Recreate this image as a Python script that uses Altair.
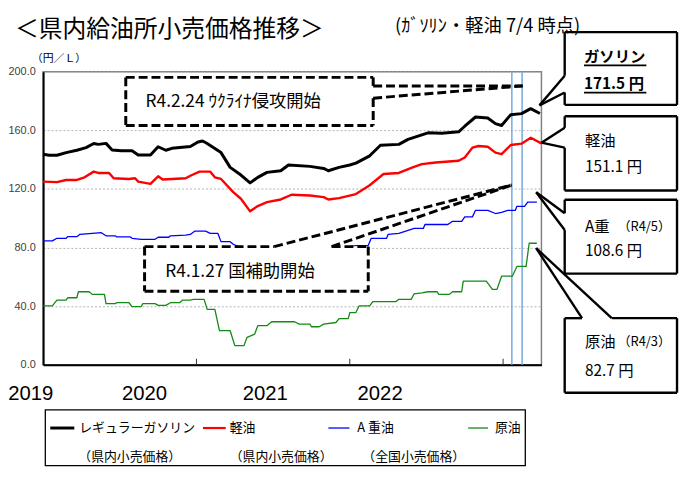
import altair as alt
import pandas as pd

# ---------------- data ----------------
SERIES = ["レギュラーガソリン", "軽油", "A重油", "原油"]

GAS_X = [2019.00, 2019.04, 2019.09, 2019.15, 2019.22, 2019.28, 2019.33, 2019.36, 2019.41, 2019.45,
         2019.51, 2019.58, 2019.62, 2019.70, 2019.75, 2019.80, 2019.84, 2019.96, 2020.01, 2020.04,
         2020.07, 2020.16, 2020.22, 2020.29, 2020.35, 2020.40, 2020.46, 2020.55, 2020.60, 2020.74,
         2020.83, 2020.86, 2020.93, 2021.00, 2021.04, 2021.13, 2021.20, 2021.32, 2021.38, 2021.51,
         2021.60, 2021.71, 2021.75, 2021.82, 2021.90, 2021.95, 2021.99, 2022.05, 2022.12, 2022.18,
         2022.24]
GAS_V = [143.7, 143.0, 143.0, 144.8, 146.4, 148.2, 151.0, 150.4, 151.1, 146.6,
         146.0, 146.0, 143.2, 143.2, 148.8, 146.4, 147.7, 149.0, 152.0, 152.7,
         151.0, 144.8, 134.7, 129.5, 124.1, 127.9, 131.3, 132.4, 136.3, 135.4,
         134.0, 132.4, 134.7, 136.3, 137.6, 142.6, 149.8, 150.4, 153.8, 158.3,
         158.0, 159.0, 162.8, 169.1, 168.4, 164.6, 163.3, 170.7, 171.4, 174.8,
         171.5]

DSL_X = [2019.00, 2019.09, 2019.15, 2019.22, 2019.27, 2019.33, 2019.36, 2019.43, 2019.46, 2019.56,
         2019.60, 2019.62, 2019.70, 2019.75, 2019.78, 2019.93, 2019.96, 2020.02, 2020.09, 2020.12,
         2020.16, 2020.24, 2020.29, 2020.35, 2020.40, 2020.46, 2020.55, 2020.62, 2020.74, 2020.83,
         2020.86, 2020.93, 2021.04, 2021.13, 2021.22, 2021.32, 2021.41, 2021.47, 2021.56, 2021.71,
         2021.75, 2021.80, 2021.84, 2021.90, 2021.95, 2021.99, 2022.05, 2022.12, 2022.18, 2022.25]
DSL_V = [125.0, 124.6, 126.1, 126.1, 127.9, 131.8, 130.9, 130.9, 127.3, 126.8,
         127.3, 125.0, 123.4, 128.6, 126.4, 127.3, 129.0, 131.8, 131.8, 127.9,
         126.8, 117.8, 113.3, 104.7, 108.3, 111.0, 112.8, 116.0, 115.5, 114.4,
         112.8, 113.7, 116.5, 122.5, 130.2, 130.9, 134.7, 136.9, 138.0, 139.2,
         141.4, 148.2, 149.3, 148.8, 144.8, 143.7, 150.0, 150.9, 154.9, 151.1]

AHV_X = [2019.00, 2019.06, 2019.09, 2019.15, 2019.16, 2019.22, 2019.24, 2019.32, 2019.38, 2019.41,
         2019.47, 2019.48, 2019.57, 2019.58, 2019.64, 2019.73, 2019.75, 2019.82, 2019.83, 2019.93,
         2019.96, 2019.99, 2020.06, 2020.09, 2020.14, 2020.16, 2020.22, 2020.24, 2020.32, 2020.42,
         2020.55, 2020.75, 2020.95, 2021.04, 2021.12, 2021.14, 2021.24, 2021.25, 2021.32, 2021.42,
         2021.48, 2021.49, 2021.64, 2021.67, 2021.73, 2021.75, 2021.80, 2021.82, 2021.90, 2021.95,
         2021.99, 2022.03, 2022.08, 2022.09, 2022.14, 2022.16, 2022.22]
AHV_V = [84.5, 84.5, 86.3, 86.3, 87.4, 87.4, 89.0, 89.6, 90.1, 88.0,
         88.0, 87.2, 87.2, 86.3, 85.6, 85.6, 87.0, 87.0, 88.0, 88.5,
         88.9, 91.2, 91.2, 89.6, 89.6, 84.0, 84.0, 82.2, 78.5, 75.5,
         74.5, 76.5, 79.5, 81.3, 81.3, 86.3, 86.3, 89.0, 89.6, 93.0,
         93.0, 95.7, 95.7, 97.9, 97.9, 100.9, 100.9, 105.4, 105.4, 103.2,
         104.0, 105.4, 105.4, 108.1, 108.1, 111.0, 111.0]

CRD_X = [2019.00, 2019.06, 2019.09, 2019.15, 2019.16, 2019.22, 2019.23, 2019.30, 2019.32, 2019.40,
         2019.41, 2019.47, 2019.48, 2019.56, 2019.58, 2019.64, 2019.65, 2019.73, 2019.75, 2019.80,
         2019.83, 2019.89, 2019.91, 2019.96, 2019.98, 2020.05, 2020.07, 2020.12, 2020.15, 2020.22,
         2020.25, 2020.31, 2020.33, 2020.38, 2020.40, 2020.46, 2020.49, 2020.64, 2020.67, 2020.74,
         2020.75, 2020.80, 2020.83, 2020.91, 2020.93, 2020.99, 2021.00, 2021.04, 2021.06, 2021.13,
         2021.15, 2021.30, 2021.32, 2021.40, 2021.42, 2021.47, 2021.51, 2021.57, 2021.58, 2021.65,
         2021.67, 2021.73, 2021.74, 2021.89, 2021.93, 2021.96, 2021.99, 2022.06, 2022.09, 2022.15,
         2022.17, 2022.22]
CRD_V = [40.1, 40.1, 44.1, 44.1, 45.7, 45.7, 49.8, 49.8, 48.0, 48.0,
         41.7, 41.7, 42.3, 42.3, 39.7, 39.7, 41.7, 41.7, 40.5, 40.5,
         42.3, 42.3, 44.1, 44.1, 44.6, 44.6, 37.8, 37.8, 23.2, 23.2,
         13.0, 13.0, 18.7, 20.9, 26.6, 26.6, 29.3, 29.3, 27.7, 27.7,
         25.9, 25.9, 27.7, 28.8, 31.5, 31.5, 35.6, 35.6, 40.1, 40.1,
         43.0, 43.0, 44.6, 44.6, 48.4, 49.1, 49.8, 49.8, 48.0, 48.0,
         49.8, 49.8, 57.0, 57.0, 51.4, 51.4, 60.4, 60.4, 67.1, 67.1,
         82.9, 82.9]

EVENT_X = [2022.057, 2022.124]          # R4.1.27 / R4.2.24 marker lines
YEAR_TICKS = [2020, 2021, 2022]
Y_TICKS = [0, 40, 80, 120, 160, 200]
YEAR_LABELS = ["2019", "2020", "2021", "2022"]

# ---------------- layout helpers ----------------
X0, Y0 = 43.5, 70.0      # plot origin on the page
W, H = 503.5, 296.0
PAD = {"left": X0 - 8, "top": Y0 - 8, "right": 139, "bottom": 103}

JP = "Noto Sans CJK JP"
ARIAL = "Liberation Sans, Arial, sans-serif"
ONE = pd.DataFrame({"k": [0]})


def px(X):
    return X - X0


def py(Y):
    return Y - Y0


def seg(x1, y1, x2, y2, color="black", width=2.0, dash=None):
    kw = dict(color=color, strokeWidth=width)
    if dash:
        kw["strokeDash"] = dash
    return alt.Chart(ONE).mark_rule(**kw).encode(
        x=alt.value(px(x1)), y=alt.value(py(y1)),
        x2=alt.value(px(x2)), y2=alt.value(py(y2)))


def rect(x1, y1, x2, y2, fill="white", stroke=None, width=1.5):
    kw = dict(fill=fill)
    if stroke:
        kw.update(stroke=stroke, strokeWidth=width)
    return alt.Chart(ONE).mark_rect(**kw).encode(
        x=alt.value(px(x1)), y=alt.value(py(y1)),
        x2=alt.value(px(x2)), y2=alt.value(py(y2)))


def txt(X, Y, s, size, font=JP, weight="normal", align="left", color="black"):
    return alt.Chart(ONE).mark_text(
        text=s, fontSize=size, font=font, fontWeight=weight, align=align,
        baseline="middle", color=color).encode(x=alt.value(px(X)), y=alt.value(py(Y)))


# ---------------- scales / axes ----------------
xscale = alt.Scale(domain=[2019, 2022.25], nice=False, zero=False)
yscale = alt.Scale(domain=[0, 200], nice=False, zero=True)
XAX = alt.Axis(values=YEAR_TICKS, labels=False, ticks=False, grid=False, title=None,
               domainColor="black", domainWidth=2)
YAX = alt.Axis(values=Y_TICKS, format=".1f", title=None, ticks=False, labelPadding=8,
               labelFont=ARIAL, labelFontSize=11, labelColor="#404040",
               domainColor="black", domainWidth=2,
               grid=True, gridColor="#b4b4b4", gridDash=[2, 2], gridWidth=1)

frames = []
for name, xs, vs in [(SERIES[0], GAS_X, GAS_V), (SERIES[1], DSL_X, DSL_V),
                     (SERIES[2], AHV_X, AHV_V), (SERIES[3], CRD_X, CRD_V)]:
    frames.append(pd.DataFrame({"series": name, "t": xs, "v": vs}))
df = pd.concat(frames, ignore_index=True)

STYLE = {SERIES[0]: ("#000000", 3.0), SERIES[1]: ("#ff0000", 2.4),
         SERIES[2]: ("#0000ff", 1.3), SERIES[3]: ("#138a13", 1.3)}

layers = []
# event marker lines
layers.append(alt.Chart(pd.DataFrame({"t": EVENT_X})).mark_rule(color="#7bafde", strokeWidth=1.6)
              .encode(x=alt.X("t:Q", scale=xscale, axis=XAX)))
for name in [SERIES[3], SERIES[2], SERIES[1], SERIES[0]]:
    c, w = STYLE[name]
    layers.append(alt.Chart(df[df.series == name]).mark_line(color=c, strokeWidth=w, strokeJoin="round")
                  .encode(x=alt.X("t:Q", scale=xscale, axis=XAX),
                          y=alt.Y("v:Q", scale=yscale, axis=YAX)))
# inward year ticks
layers.append(alt.Chart(pd.DataFrame({"t": YEAR_TICKS})).mark_rule(color="#333", strokeWidth=1)
              .encode(x=alt.X("t:Q", scale=xscale, axis=XAX), y=alt.value(H - 6), y2=alt.value(H)))

# ---- dashed event boxes ----
D = [9, 4]
DW = 3
layers += [
    rect(127, 75.7, 377, 124.3),
    seg(127, 75.7, 377, 75.7, dash=D, width=DW),
    seg(127, 75.7, 127, 124.3, dash=D, width=DW),
    seg(127, 124.3, 377, 124.3, dash=D, width=DW),
    seg(377, 75.7, 377, 84.3, dash=D, width=DW),
    seg(377, 96.7, 377, 124.3, dash=D, width=DW),
    seg(377, 84.3, 528, 84.3, dash=D, width=DW),
    seg(377, 96.7, 528, 84.3, dash=D, width=DW),
    txt(147, 100.5, "R4.2.24  ｳｸﾗｲﾅ侵攻開始", 17.5),

    rect(146, 246.7, 372, 291.7),
    seg(146, 246.7, 277, 246.7, dash=D, width=DW),
    seg(335, 246.7, 372, 246.7, dash=D, width=DW),
    seg(146, 246.7, 146, 291.7, dash=D, width=DW),
    seg(146, 291.7, 372, 291.7, dash=D, width=DW),
    seg(372, 246.7, 372, 291.7, dash=D, width=DW),
    seg(277, 246.7, 517, 184.5, dash=D, width=DW),
    seg(335, 246.7, 517, 184.5, dash=D, width=DW),
    txt(167, 272.5, "R4.1.27  国補助開始", 17.5),
]

# ---- right callout boxes ----
BL, BR, BW = 570.5, 684, 2.4


def callout_left(top, bot, o1, o2, tipx, tipy):
    return [
        seg(BL, top, BR, top, width=BW), seg(BR, top, BR, bot, width=BW),
        seg(BL, bot, BR, bot, width=BW),
        seg(BL, top, BL, o1, width=BW), seg(BL, o2, BL, bot, width=BW),
        seg(BL, o1, tipx, tipy, width=BW), seg(BL, o2, tipx, tipy, width=BW),
    ]


layers += callout_left(30, 103.5, 74, 91, 545, 104)
layers += callout_left(115, 190, 126.7, 146.7, 547, 141.7)
layers += callout_left(199.3, 274, 213, 230, 541.7, 191.7)
layers += [
    seg(BL, 319, 588, 319, width=BW), seg(618, 319, BR, 319, width=BW),
    seg(BL, 319, BL, 394.3, width=BW), seg(BR, 319, BR, 394.3, width=BW),
    seg(BL, 394.3, BR, 394.3, width=BW),
    seg(588, 319, 541.7, 248.3, width=BW), seg(618, 319, 541.7, 248.3, width=BW),
]
layers += [
    txt(590, 55, "ガソリン", 15.5, weight="bold"),
    seg(590, 63.5, 653, 63.5, width=1.8),
    txt(590, 82, "171.5 円", 15.5, weight="bold"),
    seg(590, 91, 653, 91, width=1.8),
    txt(591, 140, "軽油", 15.5),
    txt(591, 166.5, "151.1 円", 15.5),
    txt(591, 226.5, "A重", 15.5),
    txt(624, 227, "（R4/5）", 13),
    txt(591, 251.5, "108.6 円", 15.5),
    txt(591, 343, "原油", 15.5),
    txt(624, 343.5, "（R4/3）", 13),
    txt(591, 372, "82.7 円", 15.5),
]

# ---- titles / axis decorations ----
layers += [
    txt(15, 28, "＜県内給油所小売価格推移＞", 24),
    txt(399, 24, "(ｶﾞｿﾘﾝ・軽油  7/4 時点)", 18.5),
    txt(32, 57, "（円／Ｌ）", 11),
]
for lab, cx in zip(YEAR_LABELS, [31, 146, 268, 384]):
    layers.append(txt(cx, 396, lab, 20.5, font=ARIAL, align="center"))

# ---- legend ----
LG = 430
LG2 = 459
layers += [
    rect(45.7, 411.7, 530.7, 468, fill="white", stroke="black", width=1.3),
    seg(50.7, LG, 75, LG, color="#000000", width=3),
    txt(80, LG, "レギュラーガソリン", 13),
    seg(205, LG, 228, LG, color="#ff0000", width=2.2),
    txt(232, LG, "軽油", 13),
    seg(331.7, LG, 353, LG, color="#0000ff", width=1.3),
    txt(361, LG, "A 重油", 13),
    seg(473, LG, 493, LG, color="#138a13", width=1.3),
    txt(500, LG, "原油", 13),
    txt(79, LG2, "（県内小売価格）", 13),
    txt(232, LG2, "（県内小売価格）", 13),
    txt(366, LG2, "（全国小売価格）", 13),
]

chart = alt.layer(*layers).properties(
    width=W, height=H, padding=PAD, autosize=alt.AutoSizeParams(type="none"),
    background="white",
).configure_view(stroke="#808080", strokeWidth=1.5)

chart.save("out.html", embed_options={"renderer": "svg", "actions": False})
